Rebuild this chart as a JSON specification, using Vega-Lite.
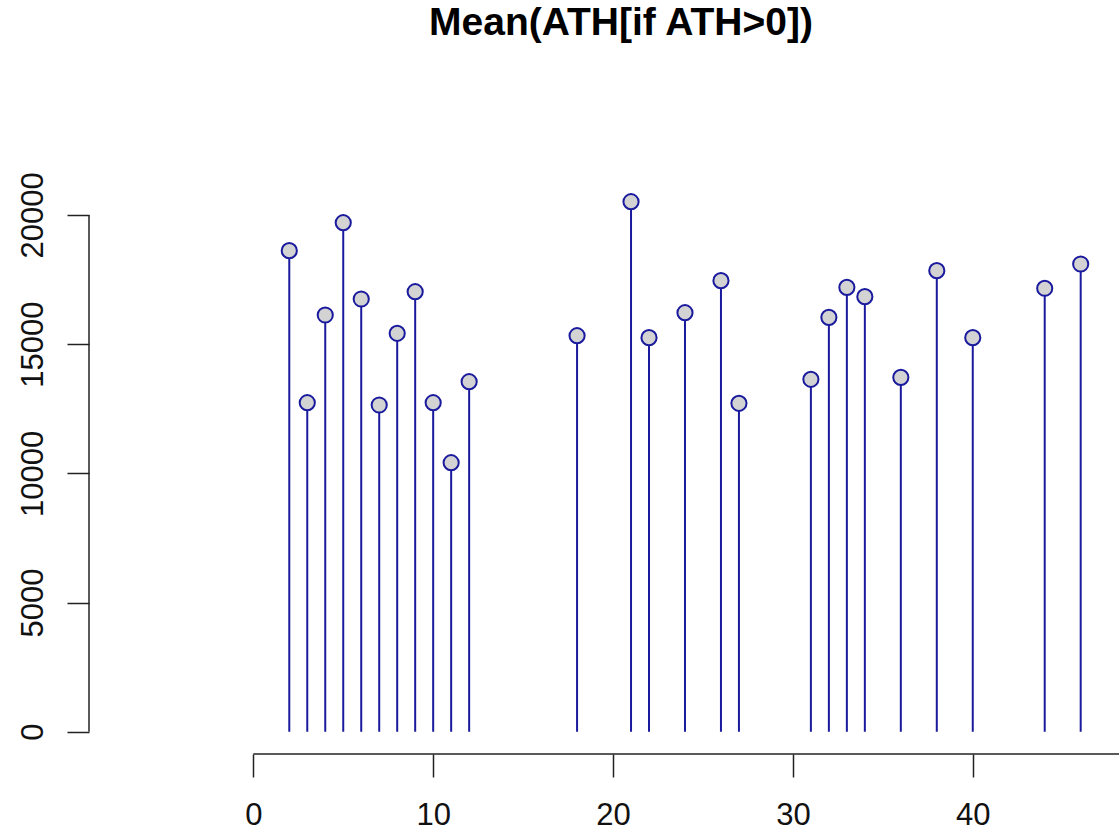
{
  "$schema": "https://vega.github.io/schema/vega-lite/v6.json",
  "autosize": "none",
  "width": 1030,
  "height": 573,
  "padding": {"left": 89, "top": 181, "right": 0, "bottom": 78},
  "background": "white",
  "title": {
    "text": "Mean(ATH[if ATH>0])",
    "font": "Liberation Sans",
    "fontSize": 39,
    "fontWeight": "bold",
    "color": "#000000",
    "anchor": "middle",
    "frame": "group",
    "baseline": "alphabetic",
    "offset": 98,
    "dx": 17
  },
  "data": {
    "values": [
      {"x": 2, "value": 18615},
      {"x": 3, "value": 12732},
      {"x": 4, "value": 16126},
      {"x": 5, "value": 19698},
      {"x": 6, "value": 16745},
      {"x": 7, "value": 12643},
      {"x": 8, "value": 15418},
      {"x": 9, "value": 17028},
      {"x": 10, "value": 12732},
      {"x": 11, "value": 10410},
      {"x": 12, "value": 13545},
      {"x": 18, "value": 15325},
      {"x": 21, "value": 20511},
      {"x": 22, "value": 15248},
      {"x": 24, "value": 16215},
      {"x": 26, "value": 17454},
      {"x": 27, "value": 12709},
      {"x": 31, "value": 13638},
      {"x": 32, "value": 16037},
      {"x": 33, "value": 17198},
      {"x": 34, "value": 16835},
      {"x": 36, "value": 13715},
      {"x": 38, "value": 17841},
      {"x": 40, "value": 15248},
      {"x": 44, "value": 17160},
      {"x": 46, "value": 18100}
    ]
  },
  "layer": [
    {
      "mark": {"type": "rule", "color": "#1a1a9e", "strokeWidth": 2},
      "encoding": {
        "x": {
          "field": "x",
          "type": "quantitative",
          "scale": {"domain": [-9.135, 48.13], "nice": false, "zero": false},
          "axis": {
            "values": [0, 10, 20, 30, 40],
            "format": "d",
            "domain": false,
            "grid": false,
            "title": null,
            "ticks": true,
            "tickSize": 23,
            "tickWidth": 1.5,
            "tickColor": "#222222",
            "labelFont": "Liberation Sans",
            "labelFontSize": 31,
            "labelColor": "#111111",
            "labelPadding": 23,
            "labelFlush": false,
            "labelOverlap": false
          }
        },
        "y": {
          "field": "value",
          "type": "quantitative",
          "scale": {"domain": [-863, 21312], "nice": false, "zero": false},
          "axis": {
            "values": [0, 5000, 10000, 15000, 20000],
            "format": "d",
            "domain": false,
            "grid": false,
            "title": null,
            "ticks": true,
            "tickSize": 22,
            "tickWidth": 1.5,
            "tickColor": "#222222",
            "labelFont": "Liberation Sans",
            "labelFontSize": 31,
            "labelColor": "#111111",
            "labelAngle": -90,
            "labelAlign": "center",
            "labelBaseline": "bottom",
            "labelPadding": 18,
            "labelFlush": false,
            "labelOverlap": false
          }
        },
        "y2": {"datum": 0}
      }
    },
    {
      "mark": {"type": "circle", "size": 230, "fill": "#d3d3d3", "stroke": "#1a1a9e", "strokeWidth": 2, "opacity": 1},
      "encoding": {
        "x": {"field": "x", "type": "quantitative"},
        "y": {"field": "value", "type": "quantitative"}
      }
    },
    {
      "data": {"values": [{"a": 0, "b": 20000}]},
      "mark": {"type": "rule", "color": "#222222", "strokeWidth": 1.5},
      "encoding": {
        "x": {"datum": -9.135},
        "y": {"field": "a", "type": "quantitative"},
        "y2": {"field": "b"}
      }
    },
    {
      "data": {"values": [{"a": 0, "b": 48.13}]},
      "mark": {"type": "rule", "color": "#222222", "strokeWidth": 1.5},
      "encoding": {
        "y": {"datum": -863},
        "x": {"field": "a", "type": "quantitative"},
        "x2": {"field": "b"}
      }
    }
  ],
  "config": {
    "view": {"stroke": null},
    "font": "Liberation Sans"
  }
}
